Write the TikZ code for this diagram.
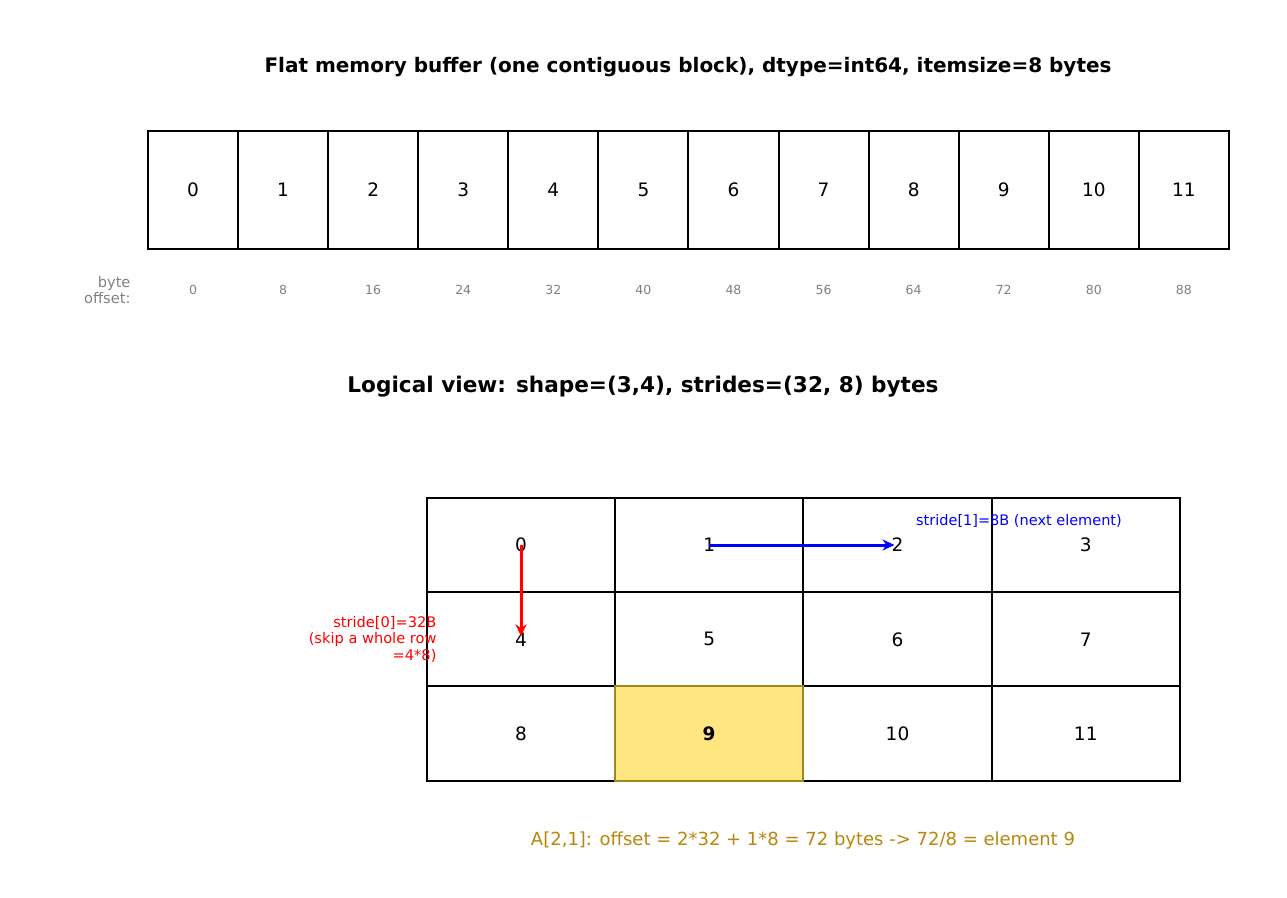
\documentclass[tikz,border=0pt]{standalone}
\usepackage{fontspec}
\setmainfont{DejaVu Sans}
\usetikzlibrary{arrows.meta,positioning}
\definecolor{hlfill}{HTML}{FFE680}
\definecolor{hledge}{HTML}{9C8A1E}
\definecolor{notecol}{HTML}{B8860B}

\begin{document}
\begin{tikzpicture}[x=1pt,y=-1pt,
   cell/.style={draw,line width=2pt,minimum width=90.08pt,minimum height=118pt,inner sep=0pt,font=\fontsize{18.5}{18.5}\selectfont},
   gcell/.style={draw,line width=2pt,minimum width=188.25pt,minimum height=94.3pt,inner sep=0pt,font=\fontsize{18.5}{18.5}\selectfont},
   offs/.style={text=gray,font=\fontsize{12.5}{12.5}\selectfont},
   stepline/.style={line width=3pt,-{Stealth[length=12pt,width=11pt]},shorten >=3pt}]
   \useasboundingbox (0,0) rectangle (1287,897);
   \node[font=\bfseries\fontsize{20}{20}\selectfont] (title1) at (688,67) {Flat memory buffer (one contiguous block), dtype=int64, itemsize=8 bytes};
   % flat buffer and byte offsets
   \foreach \i in {0,...,11} {
      \node[cell] (m\i) at ({193+90.08*\i},190) {\i};
      \pgfmathtruncatemacro{\off}{8*\i}
      \node[offs] (o\i) at ({193+90.08*\i},290) {\off};
   }
   \node[offs,font=\fontsize{14.6}{16.5}\selectfont,align=right,anchor=east] (olab) at (134,290) {byte\\offset:};
   \node[font=\bfseries\fontsize{21.6}{21.6}\selectfont] (title2) at (643,387) {Logical view: shape=(3,4), strides=(32, 8) bytes};
   % logical 3x4 view
   \foreach \r in {0,1,2} {
      \foreach \c in {0,...,3} {
         \pgfmathtruncatemacro{\k}{4*\r+\c}
         \node[gcell] (g\k) at ({521+188.25*\c},{545+94.3*\r}) {\k};
      }
   }
   \node[gcell,draw=hledge,fill=hlfill,font=\bfseries\fontsize{18.5}{18.5}\selectfont] (g9) at (709,733.6) {9};
   \draw[stepline,red] (g0.center) -- (g4.center);
   \draw[stepline,blue] (g1.center) -- (g2.center);
   \node[text=blue,font=\fontsize{14.5}{14.5}\selectfont] (lab1) at (1019,521) {stride[1]=8B (next element)};
   \node[text=red,font=\fontsize{14.6}{16.5}\selectfont,align=right,anchor=east] (lab0) at (440,639) {stride[0]=32B\\(skip a whole row\\=4*8)};
   \node[text=notecol,font=\fontsize{18}{18}\selectfont] (note) at (803,841) {A[2,1]: offset = 2*32 + 1*8 = 72 bytes -> 72/8 = element 9};
\end{tikzpicture}
\end{document}
